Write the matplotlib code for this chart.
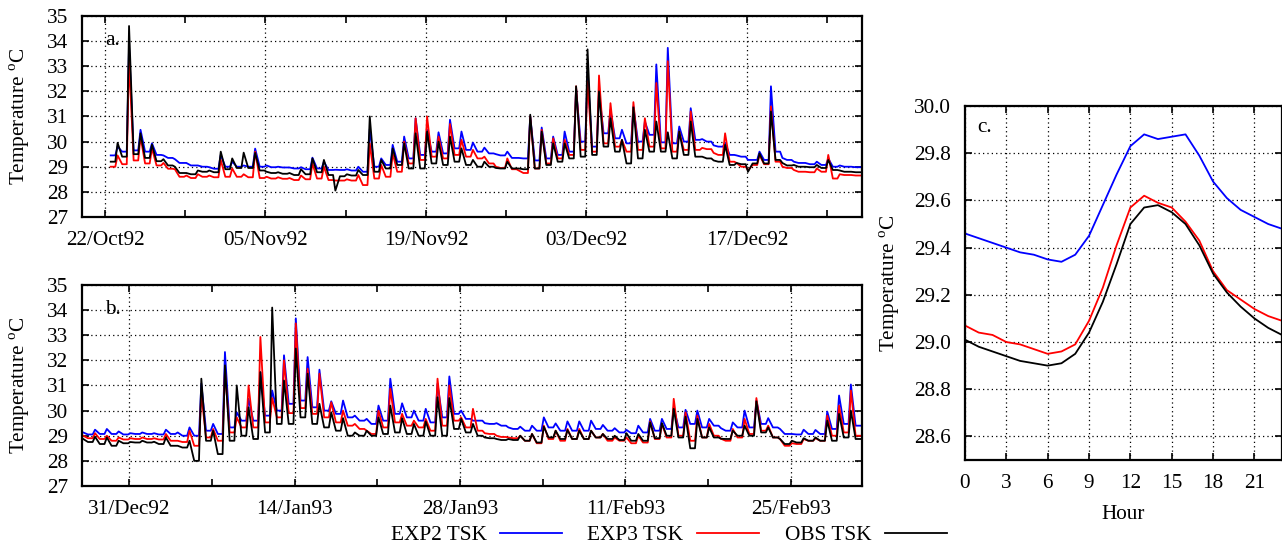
import numpy as np
import pandas as pd
import matplotlib
matplotlib.use('Agg')
import matplotlib.pyplot as plt
import matplotlib.dates as mdates
from matplotlib.lines import Line2D

plt.rcParams['font.family'] = ['Liberation Serif', 'DejaVu Serif']
plt.rcParams['font.size'] = 15.3
plt.rcParams['mathtext.fontset'] = 'custom'
plt.rcParams['mathtext.rm'] = 'Liberation Serif'

# ---- panel a: 22/Oct92 .. 26/Dec92, daily afternoon peak / night base values
a_start = '1992-10-22'
a_exp2_hi = [np.nan, 29.80, 33.80, 30.47, 29.93, 29.45, 29.30, 29.15, 29.05, 28.98,
             29.47, 29.20, 29.05, 29.72, 29.05, 29.00, 28.97, 28.98, 29.36, 29.20,
             28.88, 28.90, 29.00, 30.50, 29.33, 29.87, 30.20, 30.93, 30.47, 30.37,
             30.87, 30.40, 29.96, 29.76, 29.50, 29.60, 29.35, 31.00, 30.56, 30.20,
             30.40, 32.10, 32.80, 32.00, 31.27, 30.47, 31.40, 30.80, 33.07, 33.73,
             30.60, 31.33, 30.10, 29.85, 29.95, 29.45, 29.27, 29.60, 32.20, 29.35,
             29.20, 29.15, 29.20, 29.33, 29.05, 29.00]
a_exp2_lo = [29.45, 29.60, 29.65, 29.60, 29.47, 29.35, 29.15, 29.05, 29.00, 28.92,
             29.00, 29.00, 29.00, 29.00, 28.98, 28.97, 28.93, 28.90, 28.93, 28.87,
             28.87, 28.85, 28.80, 29.00, 29.07, 29.20, 29.33, 29.47, 29.60, 29.53,
             29.73, 29.67, 29.60, 29.53, 29.45, 29.35, 29.33, 29.25, 29.33, 29.47,
             29.60, 30.00, 29.80, 30.33, 30.13, 29.93, 30.00, 30.27, 29.97, 29.93,
             30.00, 30.07, 30.00, 29.80, 29.47, 29.40, 29.27, 29.27, 29.60, 29.27,
             29.15, 29.10, 29.07, 29.00, 29.00, 28.98]
a_exp3_hi = [np.nan, 29.45, 33.30, 30.20, 29.73, 29.15, 28.90, 28.65, 28.70, 28.65,
             29.27, 28.93, 28.70, 29.60, 28.60, 28.58, 28.55, 28.65, 29.13, 29.00,
             28.45, 28.50, 28.67, 29.93, 29.07, 29.53, 30.00, 30.93, 31.00, 30.20,
             30.70, 30.07, 29.67, 29.40, 29.00, 29.33, 28.85, 31.00, 30.47, 30.13,
             30.07, 32.20, 32.40, 32.63, 31.53, 30.07, 31.57, 30.93, 32.33, 33.20,
             30.40, 31.20, 29.75, 29.55, 30.33, 29.15, 28.85, 29.47, 31.40, 29.00,
             28.87, 28.80, 28.93, 29.47, 28.70, 28.67]
a_exp3_lo = [29.00, 29.10, 29.25, 29.13, 29.05, 28.92, 28.60, 28.55, 28.60, 28.58,
             28.60, 28.60, 28.58, 28.55, 28.53, 28.52, 28.47, 28.50, 28.53, 28.47,
             28.45, 28.45, 28.27, 28.53, 28.60, 28.80, 29.13, 29.27, 29.40, 29.33,
             29.47, 29.40, 29.33, 29.13, 28.95, 28.90, 28.75, 28.93, 29.13, 29.33,
             29.47, 29.67, 29.60, 29.93, 29.80, 29.60, 29.67, 29.80, 29.73, 29.60,
             29.67, 29.67, 29.70, 29.47, 29.20, 29.00, 29.07, 29.10, 29.20, 28.95,
             28.80, 28.78, 28.80, 28.53, 28.67, 28.65]
a_obs_hi = [np.nan, 29.95, 34.60, 30.33, 29.88, 29.30, 29.00, 28.75, 28.85, 28.85,
            29.60, 29.33, 29.56, 29.55, 28.80, 28.78, 28.75, 28.90, 29.33, 29.27,
            28.05, 28.70, 28.87, 31.00, 29.27, 29.73, 29.93, 30.33, 30.40, 30.00,
            30.20, 29.73, 29.27, 29.20, 28.95, 29.20, 28.93, 31.07, 30.40, 29.93,
            29.93, 32.20, 33.67, 32.00, 30.93, 30.07, 31.36, 30.47, 30.80, 30.37,
            30.40, 30.80, 29.40, 29.25, 29.87, 29.15, 28.80, 29.53, 31.20, 29.15,
            29.07, 29.00, 29.07, 29.27, 28.85, 28.80]
a_obs_lo = [29.20, 29.40, 29.50, 29.35, 29.22, 29.05, 28.75, 28.70, 28.80, 28.78,
            28.90, 28.95, 28.95, 28.85, 28.75, 28.72, 28.67, 28.70, 28.78, 28.67,
            28.62, 28.65, 28.67, 28.80, 28.93, 29.07, 28.93, 28.93, 29.13, 29.07,
            29.20, 29.07, 29.00, 29.00, 28.93, 28.93, 28.90, 28.93, 29.07, 29.20,
            29.33, 29.40, 29.47, 29.80, 29.60, 29.13, 29.33, 29.60, 29.60, 29.33,
            29.47, 29.40, 29.33, 29.20, 29.07, 29.10, 29.13, 29.13, 29.27, 29.05,
            29.00, 28.98, 28.95, 28.87, 28.80, 28.78]
a_ticks = ['1992-10-22', '1992-11-05', '1992-11-19', '1992-12-03', '1992-12-17']
a_ticklabels = ['22/Oct92', '05/Nov92', '19/Nov92', '03/Dec92', '17/Dec92']
a_range = ['1992-10-20', '1992-12-27']

# ---- panel b: 27/Dec92 .. 02/Mar93
b_start = '1992-12-27'
b_exp2_hi = [29.13, 29.24, 29.27, 29.17, 29.10, 29.13, 29.10, 29.24, 29.13, 29.33,
             31.07, 29.47, 32.33, 29.93, 30.47, 31.53, 30.80, 32.20, 33.67, 32.13,
             31.63, 30.37, 30.40, 29.80, 29.67, 30.20, 31.27, 30.29, 30.00, 30.07,
             31.07, 31.36, 30.00, 29.60, 29.50, 29.50, 29.33, 29.36, 29.40, 29.73,
             29.49, 29.57, 29.57, 29.60, 29.43, 29.30, 29.23, 29.40, 29.67, 29.67,
             30.13, 30.03, 30.00, 29.67, 29.30, 29.53, 30.00, 30.40, 29.70, 29.27,
             29.07, 29.24, 29.23, 29.96, 30.60, 31.04]
b_exp2_lo = [29.05, 29.07, 29.07, 29.05, 29.07, 29.07, 29.05, 29.07, 29.00, 29.00,
             29.20, 29.07, 29.33, 29.60, 29.60, 29.80, 30.00, 30.27, 30.40, 30.13,
             30.00, 29.87, 29.73, 29.60, 29.47, 29.60, 29.87, 29.73, 29.60, 29.53,
             29.73, 29.87, 29.67, 29.60, 29.47, 29.40, 29.27, 29.20, 29.20, 29.33,
             29.20, 29.20, 29.20, 29.27, 29.20, 29.13, 29.10, 29.13, 29.20, 29.27,
             29.33, 29.47, 29.33, 29.40, 29.20, 29.33, 29.33, 29.47, 29.33, 29.07,
             29.05, 29.07, 29.07, 29.27, 29.47, 29.40]
b_exp3_hi = [29.00, 29.10, 29.00, 28.93, 28.90, 28.93, 28.90, 29.07, 28.80, 29.20,
             30.67, 29.27, 31.60, 29.73, 31.00, 32.93, 30.50, 32.00, 33.47, 31.67,
             31.47, 30.33, 30.00, 29.47, 29.20, 30.00, 30.87, 29.87, 29.60, 29.67,
             31.27, 31.00, 29.73, 30.07, 29.10, 29.00, 28.93, 29.00, 29.07, 29.40,
             29.20, 29.27, 29.27, 29.20, 29.07, 28.93, 28.93, 29.00, 29.57, 29.47,
             30.47, 29.93, 29.80, 29.47, 28.88, 29.27, 29.67, 30.50, 29.40, 28.87,
             28.70, 28.87, 28.90, 29.80, 30.20, 30.80]
b_exp3_lo = [28.90, 28.87, 28.80, 28.85, 28.87, 28.87, 28.85, 28.80, 28.75, 28.60,
             28.93, 28.80, 29.13, 29.33, 29.33, 29.53, 29.73, 29.90, 30.10, 29.87,
             29.73, 29.53, 29.40, 29.27, 29.07, 29.33, 29.53, 29.40, 29.33, 29.20,
             29.40, 29.60, 29.33, 29.20, 29.07, 28.95, 28.90, 28.80, 28.70, 28.87,
             28.80, 28.87, 28.87, 28.93, 28.80, 28.80, 28.70, 28.73, 28.87, 28.93,
             29.00, 28.80, 28.93, 29.00, 28.80, 28.93, 29.07, 29.20, 28.93, 28.60,
             28.67, 28.80, 28.80, 29.00, 29.13, 29.00]
b_obs_hi = [28.87, 28.96, 28.93, 28.80, 28.75, 28.80, 28.76, 28.93, 28.60, 28.80,
            31.27, 29.20, 31.80, 31.00, 30.13, 31.53, 34.10, 31.20, 32.47, 31.47,
            30.27, 29.93, 29.70, 29.13, 29.20, 29.73, 30.20, 29.70, 29.47, 29.57,
            30.53, 30.50, 29.67, 29.47, 28.93, 28.87, 28.87, 29.00, 29.07, 29.36,
            29.20, 29.23, 29.20, 29.20, 29.07, 29.00, 29.10, 29.07, 29.53, 29.50,
            30.07, 29.76, 29.67, 29.33, 28.88, 29.20, 29.40, 30.37, 29.33, 28.87,
            28.80, 28.90, 28.93, 29.60, 29.87, 30.00]
b_obs_lo = [28.75, 28.67, 28.60, 28.70, 28.73, 28.73, 28.67, 28.60, 28.53, 28.00,
            28.80, 28.27, 28.80, 29.00, 28.87, 29.13, 29.47, 29.47, 29.73, 29.47,
            29.33, 29.20, 29.00, 29.00, 29.00, 29.07, 29.13, 29.07, 29.00, 29.00,
            29.00, 29.27, 29.13, 29.00, 28.90, 28.83, 28.83, 28.80, 28.73, 28.93,
            28.87, 28.87, 28.87, 28.93, 28.87, 28.83, 28.80, 28.80, 28.90, 29.00,
            28.93, 28.50, 28.93, 28.93, 28.87, 29.00, 29.00, 29.13, 28.93, 28.67,
            28.73, 28.80, 28.80, 28.80, 28.93, 28.87]
b_ticks = ['1992-12-31', '1993-01-14', '1993-01-28', '1993-02-11', '1993-02-25']
b_ticklabels = ['31/Dec92', '14/Jan93', '28/Jan93', '11/Feb93', '25/Feb93']
b_range = ['1992-12-27', '1993-03-03']

# ---- panel c: mean diurnal cycle
hours = list(range(24))
c_exp2 = [29.46, 29.44, 29.42, 29.40, 29.38, 29.37, 29.35, 29.34, 29.37, 29.45, 29.58, 29.71,
          29.83, 29.88, 29.86, 29.87, 29.88, 29.79, 29.68, 29.61, 29.56, 29.53, 29.50, 29.48]
c_exp3 = [29.07, 29.04, 29.03, 29.00, 28.99, 28.97, 28.95, 28.96, 28.99, 29.09, 29.23, 29.41,
          29.57, 29.62, 29.59, 29.57, 29.51, 29.43, 29.30, 29.22, 29.18, 29.14, 29.11, 29.09]
c_obs = [29.01, 28.98, 28.96, 28.94, 28.92, 28.91, 28.90, 28.91, 28.95, 29.04, 29.17, 29.33,
         29.50, 29.57, 29.58, 29.55, 29.50, 29.41, 29.29, 29.21, 29.15, 29.10, 29.06, 29.03]

names = ['EXP2 TSK', 'EXP3 TSK', 'OBS TSK']
colors = ['#0000ff', '#ff0000', 'black']
ylab = 'Temperature $^{\\rm o}$C'
grid_ls = (0, (1, 2.5))
FS = 15.3


def build(start, hi, lo):
    # peak early afternoon (local), base through the night
    t, v = [], []
    for d in range(len(hi)):
        if not np.isnan(hi[d]):
            t.append(d + 0.1)
            v.append(hi[d])
        t += [d + 0.5, d + 0.9]
        v += [lo[d], lo[d]]
    return pd.Timestamp(start) + pd.to_timedelta(t, unit='D'), v


def style(ax):
    for s in ax.spines.values():
        s.set_linewidth(1.6)
    ax.tick_params(which='both', direction='in', top=True, right=True,
                   length=5, width=1.2, labelsize=FS)
    ax.tick_params(axis='y', pad=10)
    ax.tick_params(axis='x', pad=10)


def series_panel(ax, start, data, ticks, ticklabels, xr, tag):
    for (hi, lo), c in zip(data, colors):
        t, v = build(start, hi, lo)
        ax.plot(t, v, color=c, lw=1.3)
    tk = mdates.date2num(pd.to_datetime(ticks).to_pydatetime())
    ax.set_xticks(tk)
    ax.set_xticklabels(ticklabels)
    ax.set_xticks(tk + 7, minor=True)
    ax.set_xlim(mdates.date2num(pd.to_datetime(xr).to_pydatetime()))
    ax.set_ylim(27, 35)
    ax.set_yticks(range(27, 36))
    ax.grid(True, which='major', color='black', linestyle=grid_ls, lw=0.9)
    ax.set_ylabel(ylab, fontsize=FS)
    ax.yaxis.set_label_coords(-0.064, 0.5)
    ax.text(0.03, 0.88, tag, transform=ax.transAxes, fontsize=FS, va='center')
    style(ax)


fig = plt.figure(figsize=(12.82, 5.5), dpi=100)
ax_a = fig.add_axes([0.064, 0.6055, 0.608, 0.3655])
ax_b = fig.add_axes([0.064, 0.1164, 0.608, 0.3655])
ax_c = fig.add_axes([0.7527, 0.1636, 0.2473, 0.6436])

series_panel(ax_a, a_start, [(a_exp2_hi, a_exp2_lo), (a_exp3_hi, a_exp3_lo), (a_obs_hi, a_obs_lo)],
             a_ticks, a_ticklabels, a_range, 'a.')
series_panel(ax_b, b_start, [(b_exp2_hi, b_exp2_lo), (b_exp3_hi, b_exp3_lo), (b_obs_hi, b_obs_lo)],
             b_ticks, b_ticklabels, b_range, 'b.')

for vals, c in zip([c_exp2, c_exp3, c_obs], colors):
    ax_c.plot(hours, vals, color=c, lw=1.3)
ax_c.set_xlim(0, 23)
ax_c.set_xticks(range(0, 22, 3))
ax_c.set_ylim(28.5, 30.0)
ax_c.set_yticks(np.arange(28.6, 30.01, 0.2))
ax_c.set_yticklabels(['%.1f' % y for y in np.arange(28.6, 30.01, 0.2)])
ax_c.grid(True, color='black', linestyle=grid_ls, lw=0.9)
ax_c.set_xlabel('Hour', fontsize=FS)
ax_c.xaxis.set_label_coords(0.5, -0.127)
ax_c.set_ylabel(ylab, fontsize=FS)
ax_c.yaxis.set_label_coords(-0.2, 0.5)
ax_c.text(0.04, 0.94, 'c.', transform=ax_c.transAxes, fontsize=FS, va='center')
style(ax_c)

handles = [Line2D([], [], color=c, lw=1.3) for c in colors]
fig.legend(handles, names, loc='center', bbox_to_anchor=(0.5215, 0.027), ncol=3,
           markerfirst=False, frameon=False, handlelength=2.9, handletextpad=0.65,
           columnspacing=1.2, fontsize=FS)

fig.savefig('out.png', dpi=100)
